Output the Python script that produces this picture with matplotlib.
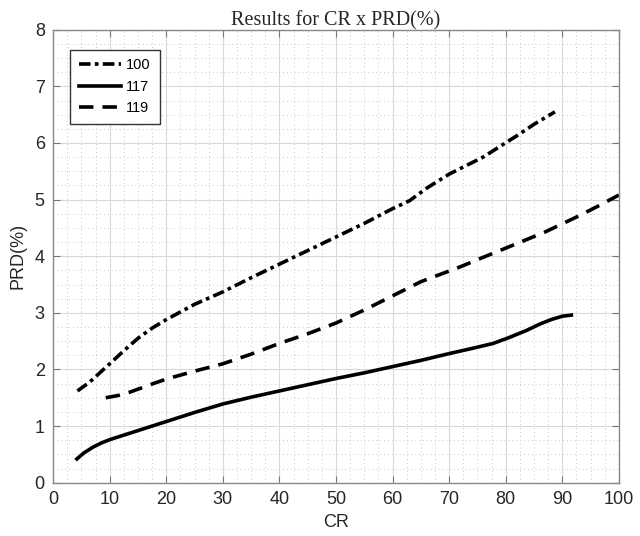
import matplotlib.pyplot as plt
from matplotlib.ticker import MultipleLocator

# datos
cr_100 = [4.3, 6.5, 10, 12.5, 15, 17.5, 20, 25, 30, 35, 40, 45, 50, 55, 60, 63, 66, 70, 76,
          82, 85, 88.7]
prd_100 = [1.62, 1.78, 2.1, 2.33, 2.55, 2.73, 2.88, 3.15, 3.37, 3.62, 3.86, 4.1, 4.34, 4.58,
           4.84, 4.98, 5.2, 5.45, 5.75, 6.13, 6.33, 6.55]

cr_117 = [4.2, 5.5, 7.1, 8.5, 10, 12.5, 15, 17.5, 20, 25, 30, 35, 40, 45, 50, 55, 60, 65, 70,
          74, 77.8, 80.5, 83.7, 86, 88, 90, 91.6]
prd_117 = [0.42, 0.53, 0.63, 0.70, 0.76, 0.84, 0.92, 1.0, 1.08, 1.24, 1.39, 1.51, 1.62, 1.73,
           1.84, 1.94, 2.05, 2.16, 2.28, 2.37, 2.46, 2.56, 2.69, 2.8, 2.88, 2.94, 2.96]

cr_119 = [9.3, 11.5, 13.6, 17.7, 20, 25, 30, 35, 40, 45, 50, 55, 60, 65, 71.9, 76, 81.9, 87,
          93.1, 97, 100]
prd_119 = [1.5, 1.54, 1.6, 1.75, 1.83, 1.97, 2.1, 2.27, 2.46, 2.63, 2.82, 3.05, 3.3, 3.55,
           3.81, 3.98, 4.22, 4.43, 4.72, 4.92, 5.08]

plt.rcParams['font.family'] = ['Liberation Sans', 'DejaVu Sans']

fig = plt.figure(figsize=(6.4, 5.36), dpi=100)
ax = fig.add_axes([0.083, 0.0995, 0.884, 0.845])

estilo = dict(color='black', linewidth=2.6, solid_joinstyle='round', dash_joinstyle='round')
ax.plot(cr_100, prd_100, linestyle=(0, (3.2, 1.2, 1, 1.2)), label='100', **estilo)
ax.plot(cr_117, prd_117, linestyle='-', label='117', **estilo)
ax.plot(cr_119, prd_119, linestyle=(0, (4, 2.5)), label='119', **estilo)

ax.set_xlim(0, 100)
ax.set_ylim(0, 8)
ax.xaxis.set_major_locator(MultipleLocator(10))
ax.xaxis.set_minor_locator(MultipleLocator(2.5))
ax.yaxis.set_major_locator(MultipleLocator(1))
ax.yaxis.set_minor_locator(MultipleLocator(0.25))

ax.grid(which='major', color='#d9d9d9', linewidth=0.8)
ax.grid(which='minor', color='#c8c8c8', linewidth=0.7, linestyle=(0, (1, 3)))
ax.set_axisbelow(True)

for s in ax.spines.values():
    s.set_color('#888888')
    s.set_linewidth(1.0)
ax.tick_params(which='major', direction='in', length=5, color='#777777', top=True, right=True,
               labelsize=13, labelcolor='#262626', pad=6)
ax.tick_params(which='minor', length=0)

ax.set_xlabel('CR', fontsize=13, color='#262626', labelpad=4)
ax.set_ylabel('PRD(%)', fontsize=13, color='#262626', labelpad=6)
ax.set_title('Results for CR x PRD(%)', fontsize=14.5, family='Liberation Serif', color='#262626', pad=3)

leg = ax.legend(loc='upper left', bbox_to_anchor=(0.03, 0.956), borderaxespad=0,
                fontsize=10.5, handlelength=2.9, handletextpad=0.35,
                fancybox=False, framealpha=1, edgecolor='#333333',
                labelspacing=0.5, borderpad=0.6)
leg.get_frame().set_linewidth(1.0)

plt.savefig('out.png', dpi=100)
